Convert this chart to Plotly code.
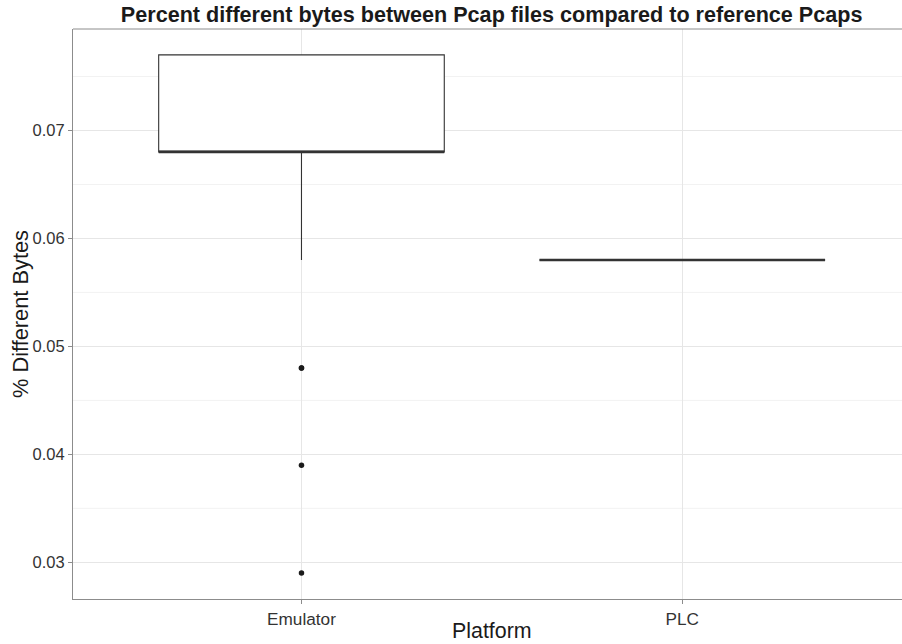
import plotly.graph_objects as go

# ---- data ----
platforms = ["Emulator", "PLC"]
q1 = [0.068, 0.058]
median = [0.068, 0.058]
q3 = [0.077, 0.058]
lower_whisker = [0.058, 0.058]
upper_whisker = [0.077, 0.058]
outlier_platform = ["Emulator", "Emulator", "Emulator", "Emulator"]
outlier_values = [0.048, 0.048, 0.039, 0.029]
y_ticks = [0.03, 0.04, 0.05, 0.06, 0.07]
y_minor = [0.035, 0.045, 0.055, 0.065, 0.075]

BOX_W = 0.75
LINE = "#333333"
FONT = "Liberation Sans, Arial, Helvetica, sans-serif"

fig = go.Figure()
fig.add_trace(go.Box(
    x=platforms, q1=q1, median=median, q3=q3,
    lowerfence=lower_whisker, upperfence=upper_whisker,
    boxpoints=False, width=BOX_W, whiskerwidth=0,
    fillcolor="white", line=dict(color=LINE, width=1.1),
    showlegend=False, hoverinfo="skip",
))
fig.add_trace(go.Scatter(
    x=outlier_platform, y=outlier_values, mode="markers",
    marker=dict(color="#1a1a1a", size=5.5), showlegend=False,
))

# thicker median lines (as in ggplot)
for i, m in enumerate(median):
    fig.add_shape(type="line", xref="x", yref="y",
                  x0=i - BOX_W / 2, x1=i + BOX_W / 2, y0=m, y1=m,
                  line=dict(color=LINE, width=2.4))

# minor gridlines
for v in y_minor:
    fig.add_shape(type="line", xref="paper", yref="y", x0=0, x1=1, y0=v, y1=v,
                  line=dict(color="#f2f2f2", width=1), layer="below")

ymin = min(outlier_values + lower_whisker)
ymax = max(upper_whisker)
pad = (ymax - ymin) * 0.05

fig.update_layout(
    width=902, height=644,
    margin=dict(l=73, r=0, t=29, b=45, autoexpand=False),
    paper_bgcolor="white", plot_bgcolor="white",
    font=dict(family=FONT, color="#333333"),
    title=dict(text="<b>Percent different bytes between Pcap files compared to reference Pcaps</b>",
               x=0.505, xanchor="center", xref="paper", y=1 - 14 / 644, yref="container",
               yanchor="middle", automargin=False,
               font=dict(size=21.6, color="#1a1a1a", family=FONT)),
    xaxis=dict(
        type="category", categoryorder="array", categoryarray=platforms,
        range=[-0.6, 1.577], automargin=False,
        showgrid=True, gridcolor="#e6e6e6", gridwidth=1,
        showline=True, linecolor="#8c8c8c", linewidth=1, mirror=False,
        ticks="outside", ticklen=4, tickcolor="#8c8c8c",
        tickfont=dict(size=17.2, color="#333333"),
        zeroline=False,
    ),
    yaxis=dict(
        range=[ymin - pad, ymax + pad], automargin=False,
        tickvals=y_ticks, ticktext=[f"{v:.2f}" for v in y_ticks],
        showgrid=True, gridcolor="#e6e6e6", gridwidth=1,
        showline=True, linecolor="#8c8c8c", linewidth=1, mirror=False,
        ticks="outside", ticklen=4, tickcolor="#8c8c8c",
        tickfont=dict(size=16.5, color="#333333"),
        zeroline=False,
    ),
    annotations=[
        dict(text="Platform", xref="x", yref="paper", x=0.5, y=0, yshift=-32,
             xanchor="center", yanchor="middle", showarrow=False,
             font=dict(size=21.4, color="#1a1a1a", family=FONT)),
        dict(text="% Different Bytes", xref="paper", yref="paper", x=0, xshift=-53,
             y=0.5, xanchor="center", yanchor="middle", textangle=-90, showarrow=False,
             font=dict(size=21.8, color="#1a1a1a", family=FONT)),
    ],
)
# top border
fig.add_shape(type="line", xref="paper", yref="paper", x0=0, x1=1, y0=1, y1=1,
              line=dict(color="#8c8c8c", width=1))

fig.write_html("out.html",
               config={"displayModeBar": False},
               post_script="document.body.style.margin='0px';document.body.style.overflow='hidden';")
